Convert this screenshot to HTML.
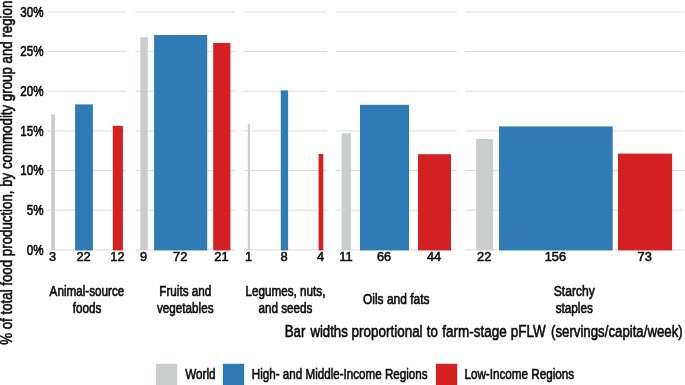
<!DOCTYPE html>
<html><head><meta charset="utf-8"><title>Chart</title>
<style>
html,body{margin:0;padding:0;background:#fff;}
body{width:685px;height:385px;overflow:hidden;}
svg{display:block;font-family:"Liberation Sans",Arial,Helvetica,sans-serif;fill:#0a0a0a;}
text{stroke:#0a0a0a;stroke-width:0.6px;stroke-linejoin:round;}
text.num{stroke-width:0.5px;}
</style></head><body>
<svg width="685" height="385" viewBox="0 0 685 385">
<rect x="0" y="0" width="685" height="385" fill="#ffffff"/>
<g stroke="#DADADA" stroke-width="0.95" fill="none">
<line x1="47.5" x2="126.4" y1="249.80" y2="249.80"/>
<line x1="47.5" x2="126.4" y1="210.16" y2="210.16"/>
<line x1="47.5" x2="126.4" y1="170.52" y2="170.52"/>
<line x1="47.5" x2="126.4" y1="130.88" y2="130.88"/>
<line x1="47.5" x2="126.4" y1="91.24" y2="91.24"/>
<line x1="47.5" x2="126.4" y1="51.60" y2="51.60"/>
<line x1="47.5" x2="126.4" y1="11.96" y2="11.96"/>
<line x1="135.6" x2="235.0" y1="249.80" y2="249.80"/>
<line x1="135.6" x2="235.0" y1="210.16" y2="210.16"/>
<line x1="135.6" x2="235.0" y1="170.52" y2="170.52"/>
<line x1="135.6" x2="235.0" y1="130.88" y2="130.88"/>
<line x1="135.6" x2="235.0" y1="91.24" y2="91.24"/>
<line x1="135.6" x2="235.0" y1="51.60" y2="51.60"/>
<line x1="135.6" x2="235.0" y1="11.96" y2="11.96"/>
<line x1="244.0" x2="327.0" y1="249.80" y2="249.80"/>
<line x1="244.0" x2="327.0" y1="210.16" y2="210.16"/>
<line x1="244.0" x2="327.0" y1="170.52" y2="170.52"/>
<line x1="244.0" x2="327.0" y1="130.88" y2="130.88"/>
<line x1="244.0" x2="327.0" y1="91.24" y2="91.24"/>
<line x1="244.0" x2="327.0" y1="51.60" y2="51.60"/>
<line x1="244.0" x2="327.0" y1="11.96" y2="11.96"/>
<line x1="336.0" x2="456.5" y1="249.80" y2="249.80"/>
<line x1="336.0" x2="456.5" y1="210.16" y2="210.16"/>
<line x1="336.0" x2="456.5" y1="170.52" y2="170.52"/>
<line x1="336.0" x2="456.5" y1="130.88" y2="130.88"/>
<line x1="336.0" x2="456.5" y1="91.24" y2="91.24"/>
<line x1="336.0" x2="456.5" y1="51.60" y2="51.60"/>
<line x1="336.0" x2="456.5" y1="11.96" y2="11.96"/>
<line x1="465.3" x2="683.2" y1="249.80" y2="249.80"/>
<line x1="465.3" x2="683.2" y1="210.16" y2="210.16"/>
<line x1="465.3" x2="683.2" y1="170.52" y2="170.52"/>
<line x1="465.3" x2="683.2" y1="130.88" y2="130.88"/>
<line x1="465.3" x2="683.2" y1="91.24" y2="91.24"/>
<line x1="465.3" x2="683.2" y1="51.60" y2="51.60"/>
<line x1="465.3" x2="683.2" y1="11.96" y2="11.96"/>
</g>
<rect x="51.2" y="114.4" width="3.80" height="136.00" fill="#CBCDCC"/>
<rect x="75.1" y="104.4" width="17.80" height="146.00" fill="#2E7BB6"/>
<rect x="112.8" y="125.8" width="10.10" height="124.60" fill="#D52021"/>
<rect x="140.3" y="37.2" width="7.50" height="213.20" fill="#CBCDCC"/>
<rect x="154.1" y="35.0" width="53.10" height="215.40" fill="#2E7BB6"/>
<rect x="213.2" y="43.0" width="17.20" height="207.40" fill="#D52021"/>
<rect x="247.8" y="124.0" width="2.20" height="126.40" fill="#CBCDCC"/>
<rect x="280.8" y="90.4" width="7.30" height="160.00" fill="#2E7BB6"/>
<rect x="318.6" y="154.0" width="4.70" height="96.40" fill="#D52021"/>
<rect x="341.7" y="133.4" width="9.20" height="117.00" fill="#CBCDCC"/>
<rect x="360.0" y="104.8" width="49.00" height="145.60" fill="#2E7BB6"/>
<rect x="418.0" y="154.2" width="33.00" height="96.20" fill="#D52021"/>
<rect x="476.1" y="139.0" width="17.00" height="111.40" fill="#CBCDCC"/>
<rect x="499.0" y="126.4" width="113.70" height="124.00" fill="#2E7BB6"/>
<rect x="618.0" y="153.6" width="54.10" height="96.80" fill="#D52021"/>
<text x="26.73" y="254.60" font-size="14.5" textLength="16.77" lengthAdjust="spacingAndGlyphs">0%</text>
<text x="26.73" y="214.96" font-size="14.5" textLength="16.77" lengthAdjust="spacingAndGlyphs">5%</text>
<text x="20.28" y="175.32" font-size="14.5" textLength="23.22" lengthAdjust="spacingAndGlyphs">10%</text>
<text x="20.28" y="135.68" font-size="14.5" textLength="23.22" lengthAdjust="spacingAndGlyphs">15%</text>
<text x="20.28" y="96.04" font-size="14.5" textLength="23.22" lengthAdjust="spacingAndGlyphs">20%</text>
<text x="20.28" y="56.40" font-size="14.5" textLength="23.22" lengthAdjust="spacingAndGlyphs">25%</text>
<text x="20.28" y="16.76" font-size="14.5" textLength="23.22" lengthAdjust="spacingAndGlyphs">30%</text>
<text x="49.13" y="260.5" font-size="12.0" textLength="7.14" lengthAdjust="spacingAndGlyphs" class="num">3</text>
<text x="76.46" y="260.5" font-size="12.0" textLength="14.28" lengthAdjust="spacingAndGlyphs" class="num">22</text>
<text x="110.31" y="260.5" font-size="12.0" textLength="14.28" lengthAdjust="spacingAndGlyphs" class="num">12</text>
<text x="140.08" y="260.5" font-size="12.0" textLength="7.14" lengthAdjust="spacingAndGlyphs" class="num">9</text>
<text x="173.11" y="260.5" font-size="12.0" textLength="14.28" lengthAdjust="spacingAndGlyphs" class="num">72</text>
<text x="214.26" y="260.5" font-size="12.0" textLength="14.28" lengthAdjust="spacingAndGlyphs" class="num">21</text>
<text x="244.93" y="260.5" font-size="12.0" textLength="7.14" lengthAdjust="spacingAndGlyphs" class="num">1</text>
<text x="280.48" y="260.5" font-size="12.0" textLength="7.14" lengthAdjust="spacingAndGlyphs" class="num">8</text>
<text x="316.98" y="260.5" font-size="12.0" textLength="7.14" lengthAdjust="spacingAndGlyphs" class="num">4</text>
<text x="339.24" y="260.5" font-size="12.0" textLength="13.33" lengthAdjust="spacingAndGlyphs" class="num">11</text>
<text x="376.96" y="260.5" font-size="12.0" textLength="14.28" lengthAdjust="spacingAndGlyphs" class="num">66</text>
<text x="426.96" y="260.5" font-size="12.0" textLength="14.28" lengthAdjust="spacingAndGlyphs" class="num">44</text>
<text x="477.06" y="260.5" font-size="12.0" textLength="14.28" lengthAdjust="spacingAndGlyphs" class="num">22</text>
<text x="544.74" y="260.5" font-size="12.0" textLength="21.42" lengthAdjust="spacingAndGlyphs" class="num">156</text>
<text x="637.51" y="260.5" font-size="12.0" textLength="14.28" lengthAdjust="spacingAndGlyphs" class="num">73</text>
<text x="49.59" y="296.40" font-size="14" textLength="74.71" lengthAdjust="spacingAndGlyphs">Animal-source</text>
<text x="72.65" y="312.80" font-size="14" textLength="28.60" lengthAdjust="spacingAndGlyphs">foods</text>
<text x="159.31" y="296.40" font-size="14" textLength="51.98" lengthAdjust="spacingAndGlyphs">Fruits and</text>
<text x="157.03" y="312.80" font-size="14" textLength="56.54" lengthAdjust="spacingAndGlyphs">vegetables</text>
<text x="245.54" y="296.40" font-size="14" textLength="79.93" lengthAdjust="spacingAndGlyphs">Legumes, nuts,</text>
<text x="258.53" y="312.80" font-size="14" textLength="53.95" lengthAdjust="spacingAndGlyphs">and seeds</text>
<text x="362.98" y="304.20" font-size="14" textLength="66.53" lengthAdjust="spacingAndGlyphs">Oils and fats</text>
<text x="553.72" y="296.40" font-size="14" textLength="41.05" lengthAdjust="spacingAndGlyphs">Starchy</text>
<text x="555.73" y="312.80" font-size="14" textLength="37.04" lengthAdjust="spacingAndGlyphs">staples</text>
<text y="336.5" font-size="16.4" lengthAdjust="spacingAndGlyphs"><tspan x="284.76" textLength="20.54" lengthAdjust="spacingAndGlyphs">Bar</tspan> <tspan x="310.40" textLength="37.42" lengthAdjust="spacingAndGlyphs">widths</tspan> <tspan x="351.60" textLength="71.02" lengthAdjust="spacingAndGlyphs">proportional</tspan> <tspan x="426.82" textLength="11.01" lengthAdjust="spacingAndGlyphs">to</tspan> <tspan x="442.34" textLength="64.35" lengthAdjust="spacingAndGlyphs">farm-stage</tspan> <tspan x="510.80" textLength="34.87" lengthAdjust="spacingAndGlyphs">pFLW</tspan> <tspan x="551.00" textLength="131.74" lengthAdjust="spacingAndGlyphs">(servings/capita/week)</tspan></text>
<text transform="translate(12.1,344.8) rotate(-90)" x="0" y="0" font-size="16.4" textLength="344.11" lengthAdjust="spacingAndGlyphs">% of total food production, by commodity group and region</text>
<rect x="156.0" y="363.8" width="21.3" height="21.6" fill="#CBCDCC"/>
<rect x="222.9" y="363.8" width="21.3" height="21.6" fill="#2E7BB6"/>
<rect x="435.9" y="363.8" width="21.3" height="21.6" fill="#D52021"/>
<text x="185.30" y="378.90" font-size="14.5" textLength="30.31" lengthAdjust="spacingAndGlyphs">World</text>
<text x="251.80" y="378.90" font-size="14.5" textLength="175.82" lengthAdjust="spacingAndGlyphs">High- and Middle-Income Regions</text>
<text x="464.40" y="378.90" font-size="14.5" textLength="109.78" lengthAdjust="spacingAndGlyphs">Low-Income Regions</text>
</svg></body></html>
